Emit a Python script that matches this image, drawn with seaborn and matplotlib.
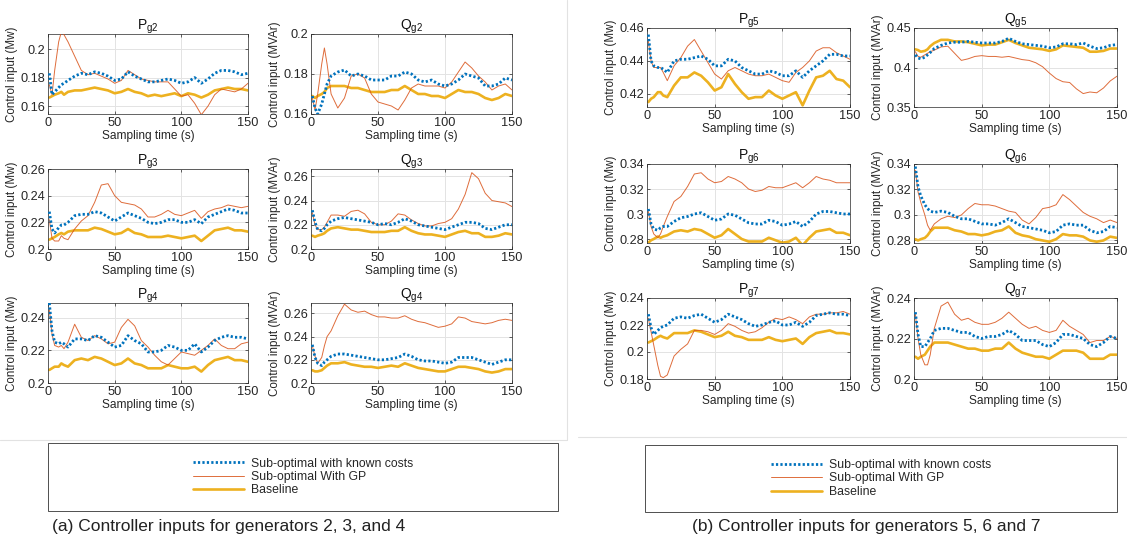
import matplotlib
matplotlib.use("Agg")
import matplotlib.pyplot as plt
import seaborn as sns
import numpy as np
import pandas as pd
from matplotlib.ticker import FuncFormatter
from matplotlib.lines import Line2D

# ---------------- data ----------------
t = [1, 3, 5, 8, 10, 12, 15, 20, 25, 30, 35, 40, 45, 50, 55, 60, 65, 70, 75, 80,
     85, 90, 95, 100, 105, 110, 115, 120, 125, 130, 135, 140, 145, 150]

series_names = ["Sub-optimal with known costs", "Sub-optimal With GP", "Baseline"]

pg2_known = [0.183, 0.168, 0.170, 0.173, 0.175, 0.176, 0.178, 0.181, 0.183, 0.182, 0.184, 0.183, 0.181, 0.178, 0.179, 0.184, 0.181, 0.179, 0.177, 0.177, 0.178, 0.179, 0.178, 0.176, 0.177, 0.180, 0.176, 0.179, 0.183, 0.185, 0.185, 0.184, 0.182, 0.183]
pg2_gp    = [0.175, 0.168, 0.185, 0.205, 0.212, 0.210, 0.205, 0.195, 0.185, 0.182, 0.183, 0.181, 0.179, 0.176, 0.178, 0.185, 0.182, 0.179, 0.178, 0.177, 0.177, 0.177, 0.172, 0.167, 0.168, 0.162, 0.154, 0.160, 0.168, 0.172, 0.171, 0.170, 0.172, 0.176]
pg2_base  = [0.166, 0.167, 0.168, 0.169, 0.170, 0.168, 0.170, 0.171, 0.171, 0.172, 0.173, 0.172, 0.171, 0.169, 0.170, 0.172, 0.170, 0.169, 0.167, 0.168, 0.167, 0.168, 0.169, 0.167, 0.169, 0.168, 0.166, 0.168, 0.171, 0.172, 0.173, 0.172, 0.172, 0.171]

qg2_known = [0.169, 0.163, 0.160, 0.165, 0.170, 0.175, 0.179, 0.181, 0.182, 0.179, 0.180, 0.179, 0.177, 0.177, 0.177, 0.179, 0.179, 0.181, 0.180, 0.177, 0.176, 0.177, 0.175, 0.174, 0.175, 0.177, 0.180, 0.179, 0.178, 0.174, 0.174, 0.175, 0.178, 0.177]
qg2_gp    = [0.168, 0.162, 0.170, 0.185, 0.193, 0.185, 0.170, 0.163, 0.168, 0.179, 0.180, 0.178, 0.170, 0.166, 0.165, 0.164, 0.162, 0.167, 0.173, 0.175, 0.174, 0.174, 0.174, 0.173, 0.176, 0.181, 0.186, 0.183, 0.179, 0.176, 0.172, 0.174, 0.175, 0.172]
qg2_base  = [0.169, 0.168, 0.169, 0.170, 0.171, 0.173, 0.174, 0.174, 0.174, 0.173, 0.173, 0.172, 0.171, 0.171, 0.171, 0.172, 0.172, 0.174, 0.172, 0.170, 0.170, 0.169, 0.169, 0.168, 0.170, 0.172, 0.171, 0.171, 0.170, 0.168, 0.167, 0.168, 0.170, 0.169]

pg3_known = [0.228, 0.215, 0.212, 0.216, 0.218, 0.218, 0.220, 0.225, 0.226, 0.226, 0.228, 0.227, 0.224, 0.221, 0.224, 0.227, 0.225, 0.223, 0.220, 0.219, 0.220, 0.222, 0.222, 0.220, 0.220, 0.222, 0.219, 0.224, 0.226, 0.228, 0.230, 0.229, 0.227, 0.227]
pg3_gp    = [0.222, 0.208, 0.206, 0.206, 0.210, 0.208, 0.207, 0.215, 0.221, 0.225, 0.235, 0.248, 0.249, 0.240, 0.235, 0.234, 0.233, 0.230, 0.224, 0.224, 0.226, 0.229, 0.226, 0.225, 0.227, 0.229, 0.223, 0.228, 0.230, 0.231, 0.233, 0.232, 0.231, 0.232]
pg3_base  = [0.207, 0.208, 0.209, 0.211, 0.212, 0.211, 0.213, 0.214, 0.214, 0.214, 0.216, 0.215, 0.213, 0.211, 0.212, 0.215, 0.212, 0.211, 0.209, 0.209, 0.209, 0.210, 0.209, 0.208, 0.209, 0.210, 0.206, 0.210, 0.214, 0.215, 0.216, 0.214, 0.214, 0.213]

qg3_known = [0.232, 0.222, 0.216, 0.215, 0.217, 0.220, 0.223, 0.225, 0.226, 0.225, 0.224, 0.223, 0.222, 0.220, 0.221, 0.220, 0.222, 0.225, 0.223, 0.220, 0.219, 0.218, 0.217, 0.216, 0.218, 0.220, 0.222, 0.222, 0.221, 0.217, 0.216, 0.218, 0.220, 0.220]
qg3_gp    = [0.230, 0.220, 0.216, 0.216, 0.218, 0.222, 0.228, 0.228, 0.227, 0.231, 0.232, 0.229, 0.222, 0.220, 0.220, 0.223, 0.229, 0.228, 0.224, 0.221, 0.219, 0.219, 0.221, 0.222, 0.225, 0.233, 0.245, 0.263, 0.258, 0.246, 0.240, 0.239, 0.238, 0.235]
qg3_base  = [0.211, 0.210, 0.211, 0.212, 0.213, 0.215, 0.217, 0.218, 0.217, 0.216, 0.216, 0.215, 0.214, 0.214, 0.214, 0.215, 0.215, 0.218, 0.215, 0.213, 0.212, 0.212, 0.211, 0.210, 0.212, 0.214, 0.215, 0.213, 0.213, 0.210, 0.210, 0.211, 0.213, 0.212]

pg4_known = [0.249, 0.232, 0.225, 0.224, 0.225, 0.224, 0.222, 0.227, 0.227, 0.226, 0.229, 0.228, 0.225, 0.222, 0.223, 0.229, 0.226, 0.224, 0.219, 0.219, 0.220, 0.223, 0.222, 0.220, 0.220, 0.224, 0.219, 0.222, 0.226, 0.228, 0.229, 0.228, 0.228, 0.227]
pg4_gp    = [0.245, 0.230, 0.223, 0.222, 0.223, 0.221, 0.225, 0.236, 0.228, 0.226, 0.229, 0.227, 0.224, 0.225, 0.234, 0.239, 0.235, 0.226, 0.222, 0.217, 0.213, 0.211, 0.215, 0.219, 0.218, 0.217, 0.220, 0.223, 0.227, 0.223, 0.221, 0.221, 0.224, 0.225]
pg4_base  = [0.208, 0.209, 0.210, 0.210, 0.212, 0.211, 0.210, 0.214, 0.215, 0.214, 0.216, 0.215, 0.213, 0.211, 0.212, 0.215, 0.212, 0.211, 0.209, 0.209, 0.209, 0.211, 0.210, 0.209, 0.209, 0.210, 0.207, 0.211, 0.214, 0.215, 0.216, 0.214, 0.214, 0.213]

qg4_known = [0.233, 0.222, 0.217, 0.215, 0.218, 0.220, 0.223, 0.225, 0.225, 0.224, 0.223, 0.222, 0.221, 0.220, 0.220, 0.221, 0.222, 0.225, 0.223, 0.220, 0.219, 0.219, 0.218, 0.217, 0.218, 0.222, 0.222, 0.222, 0.220, 0.218, 0.216, 0.218, 0.220, 0.220]
qg4_gp    = [0.232, 0.223, 0.217, 0.222, 0.232, 0.240, 0.245, 0.258, 0.268, 0.263, 0.261, 0.262, 0.259, 0.257, 0.257, 0.256, 0.256, 0.258, 0.255, 0.253, 0.252, 0.250, 0.248, 0.249, 0.251, 0.257, 0.256, 0.253, 0.252, 0.251, 0.252, 0.254, 0.255, 0.254]
qg4_base  = [0.211, 0.210, 0.210, 0.211, 0.213, 0.215, 0.217, 0.217, 0.218, 0.216, 0.215, 0.214, 0.214, 0.213, 0.214, 0.215, 0.214, 0.217, 0.215, 0.213, 0.212, 0.211, 0.210, 0.210, 0.212, 0.214, 0.214, 0.213, 0.212, 0.210, 0.209, 0.210, 0.212, 0.212]

pg5_known = [0.456, 0.440, 0.437, 0.436, 0.436, 0.435, 0.433, 0.440, 0.441, 0.441, 0.442, 0.443, 0.441, 0.437, 0.437, 0.441, 0.440, 0.436, 0.434, 0.432, 0.432, 0.434, 0.433, 0.431, 0.431, 0.434, 0.430, 0.434, 0.437, 0.440, 0.444, 0.444, 0.443, 0.443]
pg5_gp    = [0.452, 0.440, 0.436, 0.436, 0.436, 0.433, 0.428, 0.437, 0.442, 0.449, 0.453, 0.446, 0.439, 0.432, 0.429, 0.434, 0.436, 0.434, 0.432, 0.431, 0.431, 0.432, 0.430, 0.428, 0.427, 0.433, 0.436, 0.440, 0.446, 0.448, 0.448, 0.445, 0.443, 0.441]
pg5_base  = [0.415, 0.417, 0.418, 0.421, 0.421, 0.419, 0.418, 0.425, 0.430, 0.430, 0.433, 0.431, 0.427, 0.422, 0.424, 0.432, 0.426, 0.421, 0.417, 0.418, 0.418, 0.422, 0.419, 0.417, 0.419, 0.421, 0.413, 0.422, 0.430, 0.431, 0.434, 0.429, 0.428, 0.424]

qg5_known = [0.416, 0.412, 0.411, 0.413, 0.416, 0.419, 0.424, 0.428, 0.431, 0.432, 0.432, 0.433, 0.432, 0.431, 0.431, 0.431, 0.433, 0.437, 0.433, 0.430, 0.429, 0.428, 0.427, 0.425, 0.426, 0.430, 0.430, 0.429, 0.431, 0.427, 0.424, 0.425, 0.428, 0.429]
qg5_gp    = [0.420, 0.414, 0.413, 0.416, 0.418, 0.420, 0.422, 0.426, 0.427, 0.418, 0.409, 0.411, 0.414, 0.415, 0.414, 0.414, 0.413, 0.414, 0.412, 0.410, 0.409, 0.406, 0.401, 0.393, 0.386, 0.382, 0.381, 0.373, 0.367, 0.369, 0.368, 0.374, 0.383, 0.389]
qg5_base  = [0.423, 0.422, 0.420, 0.421, 0.423, 0.427, 0.431, 0.435, 0.435, 0.433, 0.433, 0.432, 0.430, 0.428, 0.429, 0.429, 0.432, 0.435, 0.431, 0.428, 0.425, 0.424, 0.423, 0.421, 0.423, 0.428, 0.427, 0.426, 0.425, 0.420, 0.420, 0.421, 0.424, 0.424]

pg6_known = [0.304, 0.292, 0.288, 0.287, 0.289, 0.290, 0.290, 0.294, 0.297, 0.298, 0.300, 0.301, 0.298, 0.295, 0.296, 0.300, 0.299, 0.296, 0.293, 0.292, 0.292, 0.295, 0.294, 0.291, 0.292, 0.294, 0.290, 0.294, 0.300, 0.302, 0.302, 0.301, 0.300, 0.300]
pg6_gp    = [0.302, 0.290, 0.284, 0.281, 0.284, 0.290, 0.298, 0.310, 0.314, 0.322, 0.332, 0.333, 0.328, 0.325, 0.326, 0.330, 0.328, 0.325, 0.320, 0.318, 0.319, 0.322, 0.321, 0.321, 0.323, 0.325, 0.321, 0.325, 0.330, 0.328, 0.327, 0.325, 0.325, 0.325]
pg6_base  = [0.277, 0.279, 0.280, 0.282, 0.281, 0.282, 0.283, 0.286, 0.287, 0.286, 0.288, 0.287, 0.284, 0.281, 0.283, 0.288, 0.284, 0.280, 0.278, 0.278, 0.278, 0.281, 0.279, 0.277, 0.278, 0.281, 0.275, 0.281, 0.286, 0.287, 0.288, 0.285, 0.285, 0.283]

qg6_known = [0.338, 0.322, 0.315, 0.308, 0.305, 0.303, 0.302, 0.303, 0.302, 0.299, 0.297, 0.297, 0.295, 0.293, 0.293, 0.292, 0.294, 0.297, 0.294, 0.291, 0.290, 0.289, 0.288, 0.286, 0.287, 0.292, 0.293, 0.292, 0.292, 0.288, 0.286, 0.287, 0.291, 0.290]
qg6_gp    = [0.335, 0.318, 0.310, 0.300, 0.292, 0.288, 0.293, 0.297, 0.299, 0.298, 0.300, 0.305, 0.309, 0.308, 0.308, 0.307, 0.305, 0.303, 0.302, 0.296, 0.293, 0.298, 0.305, 0.306, 0.308, 0.316, 0.312, 0.307, 0.302, 0.299, 0.297, 0.294, 0.296, 0.294]
qg6_base  = [0.281, 0.280, 0.281, 0.282, 0.284, 0.287, 0.290, 0.290, 0.290, 0.288, 0.287, 0.285, 0.285, 0.284, 0.285, 0.287, 0.288, 0.291, 0.286, 0.284, 0.283, 0.281, 0.280, 0.279, 0.281, 0.285, 0.284, 0.284, 0.283, 0.280, 0.279, 0.280, 0.283, 0.282]

pg7_known = [0.228, 0.218, 0.213, 0.216, 0.218, 0.219, 0.220, 0.225, 0.226, 0.225, 0.227, 0.228, 0.225, 0.222, 0.224, 0.228, 0.226, 0.224, 0.221, 0.219, 0.220, 0.222, 0.223, 0.220, 0.220, 0.222, 0.219, 0.222, 0.227, 0.228, 0.229, 0.228, 0.228, 0.227]
pg7_gp    = [0.225, 0.215, 0.205, 0.190, 0.182, 0.181, 0.183, 0.197, 0.202, 0.206, 0.216, 0.216, 0.215, 0.213, 0.216, 0.221, 0.219, 0.216, 0.214, 0.215, 0.218, 0.222, 0.225, 0.224, 0.226, 0.224, 0.221, 0.226, 0.228, 0.228, 0.229, 0.229, 0.230, 0.228]
pg7_base  = [0.207, 0.208, 0.209, 0.211, 0.212, 0.211, 0.210, 0.214, 0.214, 0.214, 0.216, 0.215, 0.213, 0.211, 0.212, 0.215, 0.212, 0.211, 0.209, 0.209, 0.209, 0.211, 0.209, 0.208, 0.209, 0.210, 0.206, 0.211, 0.214, 0.215, 0.216, 0.214, 0.214, 0.213]

qg7_known = [0.233, 0.222, 0.216, 0.216, 0.218, 0.220, 0.224, 0.225, 0.225, 0.224, 0.223, 0.223, 0.221, 0.220, 0.221, 0.221, 0.222, 0.224, 0.222, 0.219, 0.219, 0.219, 0.217, 0.216, 0.218, 0.222, 0.222, 0.221, 0.220, 0.217, 0.216, 0.218, 0.221, 0.220]
qg7_gp    = [0.232, 0.220, 0.212, 0.207, 0.207, 0.212, 0.225, 0.236, 0.238, 0.232, 0.229, 0.230, 0.228, 0.227, 0.227, 0.228, 0.230, 0.233, 0.230, 0.227, 0.225, 0.226, 0.224, 0.223, 0.224, 0.229, 0.226, 0.224, 0.222, 0.218, 0.219, 0.219, 0.221, 0.220]
qg7_base  = [0.211, 0.210, 0.211, 0.212, 0.214, 0.216, 0.218, 0.218, 0.218, 0.217, 0.216, 0.215, 0.215, 0.214, 0.214, 0.215, 0.215, 0.218, 0.215, 0.213, 0.212, 0.211, 0.211, 0.210, 0.212, 0.214, 0.214, 0.214, 0.213, 0.210, 0.210, 0.210, 0.212, 0.212]

titles = ["P_{g2}", "Q_{g2}", "P_{g3}", "Q_{g3}", "P_{g4}", "Q_{g4}",
          "P_{g5}", "Q_{g5}", "P_{g6}", "Q_{g6}", "P_{g7}", "Q_{g7}"]
ylabels = ["Control input (Mw)", "Control input (MVAr)"] * 6
yticks = [[0.16, 0.18, 0.2], [0.16, 0.18, 0.2],
          [0.2, 0.22, 0.24, 0.26], [0.2, 0.22, 0.24, 0.26],
          [0.2, 0.22, 0.24], [0.2, 0.22, 0.24, 0.26],
          [0.42, 0.44, 0.46], [0.35, 0.4, 0.45],
          [0.28, 0.3, 0.32, 0.34], [0.28, 0.3, 0.32, 0.34],
          [0.18, 0.2, 0.22, 0.24], [0.2, 0.22, 0.24]]
ylims = [(0.1545, 0.2105), (0.16, 0.2), (0.2, 0.26), (0.2, 0.266),
         (0.2, 0.249), (0.2, 0.269), (0.412, 0.46), (0.35, 0.45),
         (0.2768, 0.34), (0.278, 0.34), (0.18, 0.24), (0.2, 0.24)]
xticks = [0, 50, 100, 150]
xlabel = "Sampling time (s)"
captions = ["(a) Controller inputs for generators 2, 3, and 4",
            "(b) Controller inputs for generators 5, 6 and 7"]

panels = [
    (pg2_known, pg2_gp, pg2_base), (qg2_known, qg2_gp, qg2_base),
    (pg3_known, pg3_gp, pg3_base), (qg3_known, qg3_gp, qg3_base),
    (pg4_known, pg4_gp, pg4_base), (qg4_known, qg4_gp, qg4_base),
    (pg5_known, pg5_gp, pg5_base), (qg5_known, qg5_gp, qg5_base),
    (pg6_known, pg6_gp, pg6_base), (qg6_known, qg6_gp, qg6_base),
    (pg7_known, pg7_gp, pg7_base), (qg7_known, qg7_gp, qg7_base),
]

# ---------------- style ----------------
sns.set_theme(style="ticks")
plt.rcParams["font.family"] = ["Liberation Sans", "DejaVu Sans"]
plt.rcParams["mathtext.fontset"] = "custom"
plt.rcParams["mathtext.rm"] = "Liberation Sans"
plt.rcParams["mathtext.it"] = "Liberation Sans"

C_KNOWN = "#0072BD"
C_GP = "#D95319"
C_BASE = "#EDB120"
styles = [dict(color=C_KNOWN, linestyle=(0, (0.8, 0.8)), linewidth=2.0, zorder=4),
          dict(color=C_GP, linestyle="-", linewidth=0.7, alpha=0.85, zorder=3),
          dict(color=C_BASE, linestyle="-", linewidth=1.9, zorder=2)]

W, H = 1127, 545
fig = plt.figure(figsize=(W / 100, H / 100), dpi=100)
fig.patch.set_facecolor("white")

def rect(l, t_, r, b):
    return [l / W, 1 - b / H, (r - l) / W, (b - t_) / H]

cols = [(48, 248), (311, 512), (647, 850), (914, 1117)]
rows_a = [(34, 114), (169, 249), (303, 383)]
rows_b = [(28, 107), (164, 243), (298, 379)]

boxes = []
for r in range(3):
    boxes.append((cols[0], rows_a[r]))
    boxes.append((cols[1], rows_a[r]))
for r in range(3):
    boxes.append((cols[2], rows_b[r]))
    boxes.append((cols[3], rows_b[r]))

fmt = FuncFormatter(lambda v, p: f"{v:g}")

for i, ((cl, cr), (rt, rb)) in enumerate(boxes):
    ax = fig.add_axes(rect(cl, rt, cr, rb))
    for s, vals in enumerate(panels[i]):
        df = pd.DataFrame({"t": t, "v": vals})
        sns.lineplot(data=df, x="t", y="v", ax=ax, **styles[s])
    ax.set_xlim(0, 150)
    ax.set_ylim(*ylims[i])
    ax.set_xticks(xticks)
    ax.set_yticks(yticks[i])
    ax.yaxis.set_major_formatter(fmt)
    ax.grid(True, color="#e3e3e3", linewidth=0.7)
    ax.set_axisbelow(True)
    ax.tick_params(direction="in", length=2.5, width=0.5, labelsize=9.2,
                   colors="#262626", pad=2, top=True, right=True)
    for sp in ax.spines.values():
        sp.set_visible(True)
        sp.set_color("#262626")
        sp.set_linewidth(0.5)
    ax.set_xlabel(xlabel, fontsize=8.6, labelpad=1, color="#262626")
    ax.set_ylabel(ylabels[i], fontsize=8.4, labelpad=2, color="#262626")
    ax.set_title(r"$\mathregular{" + titles[i] + "}$", fontsize=10, pad=3,
                 color="#111111")

# panel separators
fig.add_artist(Line2D([567 / W, 567 / W], [1 - 0 / H, 1 - 440 / H],
                      color="#e2e2e2", lw=0.8, transform=fig.transFigure))
fig.add_artist(Line2D([0, 567 / W], [1 - 440 / H, 1 - 440 / H],
                      color="#e2e2e2", lw=0.8, transform=fig.transFigure))
fig.add_artist(Line2D([578 / W, 1], [1 - 437 / H, 1 - 437 / H],
                      color="#e2e2e2", lw=0.8, transform=fig.transFigure))

# legends
handles = [Line2D([], [], **{k: v for k, v in st.items() if k != "zorder"})
           for st in styles]
for (l, tp, r, b) in [(48, 443, 558, 511), (645, 445, 1117, 512)]:
    fig.patches.append(plt.Rectangle((l / W, 1 - b / H), (r - l) / W, (b - tp) / H,
                                     transform=fig.transFigure, fill=False,
                                     edgecolor="#333333", linewidth=0.6))
    fig.legend(handles, series_names, loc="center",
               bbox_to_anchor=((l + r) / 2 / W, 1 - (tp + b) / 2 / H),
               frameon=False, fontsize=8.8, handlelength=4.2, labelspacing=0.12,
               handletextpad=0.5, borderpad=0.2)

fig.text(229 / W, 1 - 527 / H, captions[0], ha="center", va="center",
         fontsize=12.5, color="#222222")
fig.text(866 / W, 1 - 527 / H, captions[1], ha="center", va="center",
         fontsize=12.5, color="#222222")

fig.savefig("out.png", dpi=100, facecolor="white")
